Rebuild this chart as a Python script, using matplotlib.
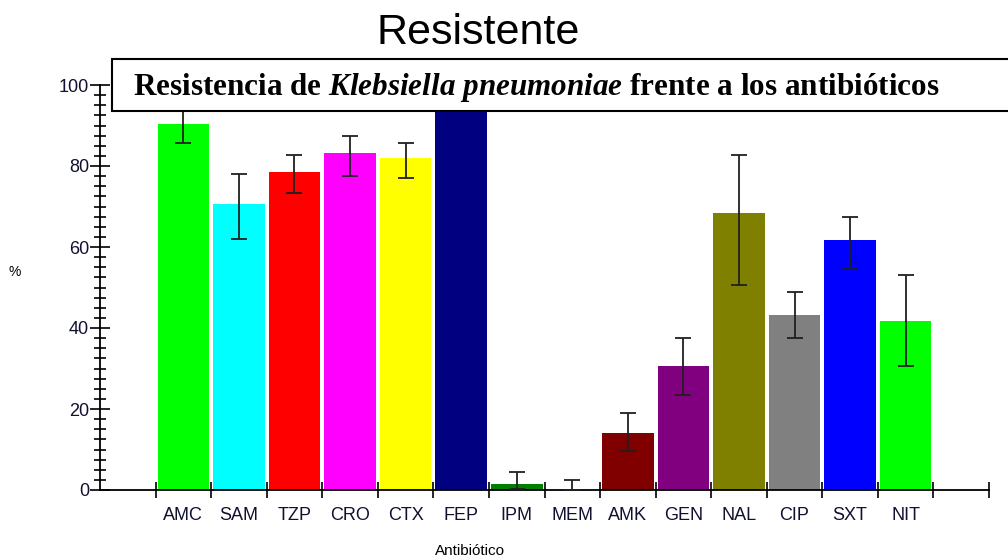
import matplotlib.pyplot as plt
import numpy as np
from matplotlib.patches import Rectangle
from matplotlib.ticker import MultipleLocator, FixedLocator

#=====================================================================
#data
#=====================================================================
antibiotics = ['AMC', 'SAM', 'TZP', 'CRO', 'CTX', 'FEP', 'IPM', 'MEM',
               'AMK', 'GEN', 'NAL', 'CIP', 'SXT', 'NIT']
resist_pct = [90.4, 70.5, 78.6, 83.3, 81.9, 97.0, 1.5, 0.0,
              14.0, 30.5, 68.5, 43.1, 61.7, 41.8]
#confidence interval limits (asymmetric)
ci_low = [85.6, 62.0, 73.4, 77.6, 77.1, 94.0, 0.3, 0.0,
          9.6, 23.5, 50.5, 37.5, 54.7, 30.7]
ci_high = [94.5, 78.0, 82.7, 87.3, 85.6, 99.0, 4.4, 2.5,
           18.9, 37.5, 82.6, 48.8, 67.5, 53.1]
bar_colors = ['#00ff00', '#00ffff', '#ff0000', '#ff00ff', '#ffff00', '#000080',
              '#008000', '#008080', '#800000', '#800080', '#808000', '#808080',
              '#0000ff', '#00ff00']

plt.rcParams['font.family'] = ['Liberation Sans', 'DejaVu Sans']
plt.rcParams['mathtext.fontset'] = 'custom'
plt.rcParams['mathtext.bfit'] = 'Liberation Serif:italic:bold'
plt.rcParams['mathtext.it'] = 'Liberation Serif:italic:bold'
plt.rcParams['mathtext.rm'] = 'Liberation Serif:bold'

#=====================================================================
#plot
#=====================================================================
fig = plt.figure(figsize=(10.08, 5.6), dpi=100)
ax = fig.add_axes([100/1008, 70/560, 889/1008, 405/560])

x = np.arange(len(antibiotics))
vals = np.array(resist_pct)
yerr = [vals - np.array(ci_low), np.array(ci_high) - vals]
ax.bar(x, vals, width=0.93, color=bar_colors, zorder=2)
ax.errorbar(x, vals, yerr=yerr, fmt='none', ecolor='#202020',
            elinewidth=1.3, capsize=6, capthick=1.3, zorder=3)

ax.set_xlim(-1.5, len(antibiotics) + 0.5)
ax.set_ylim(0, 100)

#category boundary ticks on x
ax.xaxis.set_major_locator(FixedLocator(np.arange(-0.5, len(antibiotics) + 1, 1)))
ax.set_xticklabels([])
ax.xaxis.set_minor_locator(FixedLocator(x))
ax.set_xticklabels(antibiotics, minor=True, fontsize=13, color='#101030')
ax.tick_params(axis='x', which='major', direction='inout', length=11, width=1.2)
ax.tick_params(axis='x', which='minor', length=0, pad=12)

ax.yaxis.set_major_locator(MultipleLocator(20))
ax.yaxis.set_minor_locator(MultipleLocator(2.5))
ax.tick_params(axis='y', which='major', direction='inout', length=14, width=1.2,
               labelsize=13, labelcolor='#101030', pad=1)
ax.tick_params(axis='y', which='minor', direction='inout', length=8, width=1.2)

for s in ['top', 'right']:
    ax.spines[s].set_visible(False)
for s in ['left', 'bottom']:
    ax.spines[s].set_linewidth(1.3)

fig.text(15/1008, 1 - 272/560, '%', fontsize=10, ha='center', va='center')
fig.text(470/1008, 1 - 551/560, 'Antibiótico', fontsize=11, ha='center', va='center')
fig.text(478/1008, 1 - 33/560, 'Resistente', fontsize=31, ha='center', va='center')

#overlay title box
box = Rectangle((112/1008, 1 - 111/560), 1.0, 52/560, transform=fig.transFigure,
                facecolor='white', edgecolor='black', linewidth=1.5, zorder=10)
fig.patches.append(box)
fig.text(133/1008, 1 - 87/560,
         r'Resistencia de $\mathit{Klebsiella\ pneumoniae}$ frente a los antibióticos',
         fontsize=22.4, family='Liberation Serif', weight='bold',
         ha='left', va='center', zorder=11)

fig.savefig('out.png', dpi=100)
